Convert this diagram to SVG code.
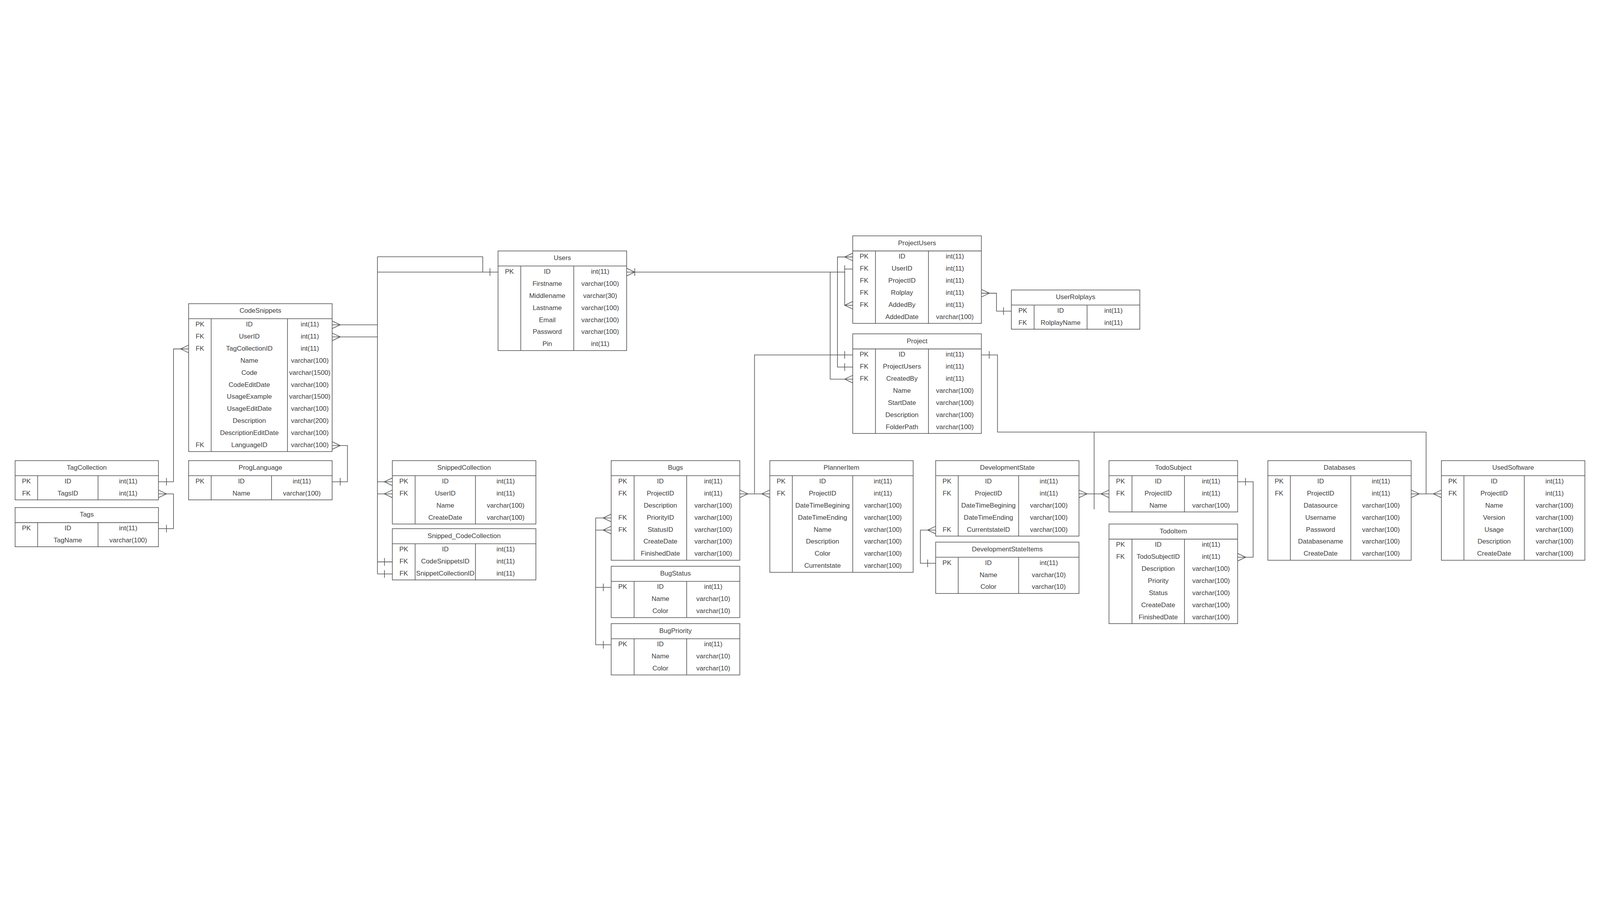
<svg xmlns="http://www.w3.org/2000/svg" width="7948" height="2333" viewBox="0 0 7948 2333">
<style>
:root{width:100vw;height:100vh}
.box{fill:#fff;stroke:#4d4d4d;stroke-width:3}
.sep{stroke:#4d4d4d;stroke-width:3;fill:none}
.ln{stroke:#4d4d4d;stroke-width:3;fill:none}
text{font-family:"Liberation Sans",Arial,Helvetica,sans-serif;font-size:33px;fill:#404040;text-anchor:middle}
</style>
<rect x="0" y="0" width="7948" height="2333" fill="#fff"/>
<g id="connectors">
<path class="ln" d="M1650,517 H1875 M1650,577 H1875 M1875,179 H2398 V255 M1875,255 H2474 M1875,179 V1755 M1949,1297 H1875 M1949,1357 H1875 M1949,1695 H1875 M1949,1755 H1875"/>
<path class="ln" d="M1650,498 L1690,517 L1650,536 M1650,558 L1690,577 L1650,596 M2434,236 V274 M1949,1278 L1909,1297 L1949,1316 M1949,1338 L1909,1357 L1949,1376 M1910,1676 V1714 M1910,1736 V1774"/>
<path class="ln" d="M787,1297 H862 V637 H937 M827,1278 V1316 M937,618 L897,637 L937,656"/>
<path class="ln" d="M787,1357 H862 V1530 H787 M787,1338 L827,1357 L787,1376 M827,1511 V1549"/>
<path class="ln" d="M1650,1117 H1726 V1297 H1650 M1650,1098 L1690,1117 L1650,1136 M1690,1278 V1316"/>
<path class="ln" d="M3113,255 H4196 V240 H4236 M3113,236 L3153,255 L3113,274 M3153,236 V274 M4196,221 V259"/>
<path class="ln" d="M4196,255 V420 H4236 M4236,401 L4196,420 L4236,439"/>
<path class="ln" d="M4124,255 V787 H4236 M4236,768 L4196,787 L4236,806"/>
<path class="ln" d="M4236,180 H4160 V727 H4236 M4236,161 L4196,180 L4236,199 M4196,708 V746"/>
<path class="ln" d="M4875,360 H4950 V449 H5024 M4875,341 L4915,360 L4875,379 M4985,430 V468"/>
<path class="ln" d="M4236,667 H3748 V1357 M4196,648 V686 M3675,1357 H3824 M3675,1338 L3715,1357 L3675,1376 M3824,1338 L3784,1357 L3824,1376"/>
<path class="ln" d="M3036,1477 H2959 V2107 H3036 M3036,1537 H2959 M3036,1822 H2959 M3036,1458 L2996,1477 L3036,1496 M3036,1518 L2996,1537 L3036,1556 M2997,1803 V1841 M2997,2088 V2126"/>
<path class="ln" d="M4875,667 H4955 V1050 H7084 V1357 M4914,648 V686 M5435,1050 V1434"/>
<path class="ln" d="M5360,1357 H5509 M5360,1338 L5400,1357 L5360,1376 M5509,1338 L5469,1357 L5509,1376"/>
<path class="ln" d="M7010,1357 H7160 M7010,1338 L7050,1357 L7010,1376 M7160,1338 L7120,1357 L7160,1376"/>
<path class="ln" d="M4648,1537 H4572 V1702 H4648 M4648,1518 L4608,1537 L4648,1556 M4608,1683 V1721"/>
<path class="ln" d="M6148,1297 H6225 V1672 H6148 M6187,1278 V1316 M6148,1653 L6188,1672 L6148,1691"/>
</g>

<g id="CodeSnippets">
<rect class="box" x="937" y="412" width="713" height="735"/>
<path class="sep" d="M937,487 H1650 M1049,487 V1147 M1428,487 V1147"/>
<text x="1293.5" y="458">CodeSnippets</text>
<text x="993" y="525">PK</text><text x="1238.5" y="525">ID</text><text x="1539" y="525">int(11)</text>
<text x="993" y="585">FK</text><text x="1238.5" y="585">UserID</text><text x="1539" y="585">int(11)</text>
<text x="993" y="645">FK</text><text x="1238.5" y="645">TagCollectionID</text><text x="1539" y="645">int(11)</text>
<text x="1238.5" y="705">Name</text><text x="1539" y="705">varchar(100)</text>
<text x="1238.5" y="765">Code</text><text x="1539" y="765">varchar(1500)</text>
<text x="1238.5" y="825">CodeEditDate</text><text x="1539" y="825">varchar(100)</text>
<text x="1238.5" y="885">UsageExample</text><text x="1539" y="885">varchar(1500)</text>
<text x="1238.5" y="945">UsageEditDate</text><text x="1539" y="945">varchar(100)</text>
<text x="1238.5" y="1005">Description</text><text x="1539" y="1005">varchar(200)</text>
<text x="1238.5" y="1065">DescriptionEditDate</text><text x="1539" y="1065">varchar(100)</text>
<text x="993" y="1125">FK</text><text x="1238.5" y="1125">LanguageID</text><text x="1539" y="1125">varchar(100)</text>
</g>

<g id="TagCollection">
<rect class="box" x="75" y="1192" width="712" height="195"/>
<path class="sep" d="M75,1267 H787 M187,1267 V1387 M487,1267 V1387"/>
<text x="431" y="1238">TagCollection</text>
<text x="131" y="1305">PK</text><text x="337" y="1305">ID</text><text x="637" y="1305">int(11)</text>
<text x="131" y="1365">FK</text><text x="337" y="1365">TagsID</text><text x="637" y="1365">int(11)</text>
</g>

<g id="Tags">
<rect class="box" x="75" y="1425" width="712" height="195"/>
<path class="sep" d="M75,1500 H787 M187,1500 V1620 M487,1500 V1620"/>
<text x="431" y="1471">Tags</text>
<text x="131" y="1538">PK</text><text x="337" y="1538">ID</text><text x="637" y="1538">int(11)</text>
<text x="337" y="1598">TagName</text><text x="637" y="1598">varchar(100)</text>
</g>

<g id="ProgLanguage">
<rect class="box" x="937" y="1192" width="713" height="195"/>
<path class="sep" d="M937,1267 H1650 M1049,1267 V1387 M1349,1267 V1387"/>
<text x="1293.5" y="1238">ProgLanguage</text>
<text x="993" y="1305">PK</text><text x="1199" y="1305">ID</text><text x="1499.5" y="1305">int(11)</text>
<text x="1199" y="1365">Name</text><text x="1499.5" y="1365">varchar(100)</text>
</g>

<g id="Users">
<rect class="box" x="2474" y="150" width="639" height="495"/>
<path class="sep" d="M2474,225 H3113 M2587,225 V645 M2850,225 V645"/>
<text x="2793.5" y="196">Users</text>
<text x="2530.5" y="263">PK</text><text x="2718.5" y="263">ID</text><text x="2981.5" y="263">int(11)</text>
<text x="2718.5" y="323">Firstname</text><text x="2981.5" y="323">varchar(100)</text>
<text x="2718.5" y="383">Middlename</text><text x="2981.5" y="383">varchar(30)</text>
<text x="2718.5" y="443">Lastname</text><text x="2981.5" y="443">varchar(100)</text>
<text x="2718.5" y="503">Email</text><text x="2981.5" y="503">varchar(100)</text>
<text x="2718.5" y="563">Password</text><text x="2981.5" y="563">varchar(100)</text>
<text x="2718.5" y="623">Pin</text><text x="2981.5" y="623">int(11)</text>
</g>

<g id="SnippedCollection">
<rect class="box" x="1949" y="1192" width="713" height="315"/>
<path class="sep" d="M1949,1267 H2662 M2062,1267 V1507 M2362,1267 V1507"/>
<text x="2305.5" y="1238">SnippedCollection</text>
<text x="2005.5" y="1305">PK</text><text x="2212" y="1305">ID</text><text x="2512" y="1305">int(11)</text>
<text x="2005.5" y="1365">FK</text><text x="2212" y="1365">UserID</text><text x="2512" y="1365">int(11)</text>
<text x="2212" y="1425">Name</text><text x="2512" y="1425">varchar(100)</text>
<text x="2212" y="1485">CreateDate</text><text x="2512" y="1485">varchar(100)</text>
</g>

<g id="Snipped_CodeCollection">
<rect class="box" x="1949" y="1530" width="713" height="255"/>
<path class="sep" d="M1949,1605 H2662 M2062,1605 V1785 M2362,1605 V1785"/>
<text x="2305.5" y="1576">Snipped_CodeCollection</text>
<text x="2005.5" y="1643">PK</text><text x="2212" y="1643">ID</text><text x="2512" y="1643">int(11)</text>
<text x="2005.5" y="1703">FK</text><text x="2212" y="1703">CodeSnippetsID</text><text x="2512" y="1703">int(11)</text>
<text x="2005.5" y="1763">FK</text><text x="2212" y="1763">SnippetCollectionID</text><text x="2512" y="1763">int(11)</text>
</g>

<g id="Bugs">
<rect class="box" x="3036" y="1192" width="639" height="495"/>
<path class="sep" d="M3036,1267 H3675 M3150,1267 V1687 M3411,1267 V1687"/>
<text x="3355.5" y="1238">Bugs</text>
<text x="3093" y="1305">PK</text><text x="3280.5" y="1305">ID</text><text x="3543" y="1305">int(11)</text>
<text x="3093" y="1365">FK</text><text x="3280.5" y="1365">ProjectID</text><text x="3543" y="1365">int(11)</text>
<text x="3280.5" y="1425">Description</text><text x="3543" y="1425">varchar(100)</text>
<text x="3093" y="1485">FK</text><text x="3280.5" y="1485">PriorityID</text><text x="3543" y="1485">varchar(100)</text>
<text x="3093" y="1545">FK</text><text x="3280.5" y="1545">StatusID</text><text x="3543" y="1545">varchar(100)</text>
<text x="3280.5" y="1605">CreateDate</text><text x="3543" y="1605">varchar(100)</text>
<text x="3280.5" y="1665">FinishedDate</text><text x="3543" y="1665">varchar(100)</text>
</g>

<g id="BugStatus">
<rect class="box" x="3036" y="1717" width="639" height="255"/>
<path class="sep" d="M3036,1792 H3675 M3150,1792 V1972 M3411,1792 V1972"/>
<text x="3355.5" y="1763">BugStatus</text>
<text x="3093" y="1830">PK</text><text x="3280.5" y="1830">ID</text><text x="3543" y="1830">int(11)</text>
<text x="3280.5" y="1890">Name</text><text x="3543" y="1890">varchar(10)</text>
<text x="3280.5" y="1950">Color</text><text x="3543" y="1950">varchar(10)</text>
</g>

<g id="BugPriority">
<rect class="box" x="3036" y="2002" width="639" height="255"/>
<path class="sep" d="M3036,2077 H3675 M3150,2077 V2257 M3411,2077 V2257"/>
<text x="3355.5" y="2048">BugPriority</text>
<text x="3093" y="2115">PK</text><text x="3280.5" y="2115">ID</text><text x="3543" y="2115">int(11)</text>
<text x="3280.5" y="2175">Name</text><text x="3543" y="2175">varchar(10)</text>
<text x="3280.5" y="2235">Color</text><text x="3543" y="2235">varchar(10)</text>
</g>

<g id="ProjectUsers">
<rect class="box" x="4236" y="75" width="639" height="435"/>
<path class="sep" d="M4236,150 H4875 M4349,150 V510 M4612,150 V510"/>
<text x="4555.5" y="121">ProjectUsers</text>
<text x="4292.5" y="188">PK</text><text x="4480.5" y="188">ID</text><text x="4743.5" y="188">int(11)</text>
<text x="4292.5" y="248">FK</text><text x="4480.5" y="248">UserID</text><text x="4743.5" y="248">int(11)</text>
<text x="4292.5" y="308">FK</text><text x="4480.5" y="308">ProjectID</text><text x="4743.5" y="308">int(11)</text>
<text x="4292.5" y="368">FK</text><text x="4480.5" y="368">Rolplay</text><text x="4743.5" y="368">int(11)</text>
<text x="4292.5" y="428">FK</text><text x="4480.5" y="428">AddedBy</text><text x="4743.5" y="428">int(11)</text>
<text x="4480.5" y="488">AddedDate</text><text x="4743.5" y="488">varchar(100)</text>
</g>

<g id="Project">
<rect class="box" x="4236" y="562" width="639" height="495"/>
<path class="sep" d="M4236,637 H4875 M4349,637 V1057 M4612,637 V1057"/>
<text x="4555.5" y="608">Project</text>
<text x="4292.5" y="675">PK</text><text x="4480.5" y="675">ID</text><text x="4743.5" y="675">int(11)</text>
<text x="4292.5" y="735">FK</text><text x="4480.5" y="735">ProjectUsers</text><text x="4743.5" y="735">int(11)</text>
<text x="4292.5" y="795">FK</text><text x="4480.5" y="795">CreatedBy</text><text x="4743.5" y="795">int(11)</text>
<text x="4480.5" y="855">Name</text><text x="4743.5" y="855">varchar(100)</text>
<text x="4480.5" y="915">StartDate</text><text x="4743.5" y="915">varchar(100)</text>
<text x="4480.5" y="975">Description</text><text x="4743.5" y="975">varchar(100)</text>
<text x="4480.5" y="1035">FolderPath</text><text x="4743.5" y="1035">varchar(100)</text>
</g>

<g id="UserRolplays">
<rect class="box" x="5024" y="344" width="638" height="195"/>
<path class="sep" d="M5024,419 H5662 M5137,419 V539 M5400,419 V539"/>
<text x="5343" y="390">UserRolplays</text>
<text x="5080.5" y="457">PK</text><text x="5268.5" y="457">ID</text><text x="5531" y="457">int(11)</text>
<text x="5080.5" y="517">FK</text><text x="5268.5" y="517">RolplayName</text><text x="5531" y="517">int(11)</text>
</g>

<g id="PlannerItem">
<rect class="box" x="3824" y="1192" width="712" height="555"/>
<path class="sep" d="M3824,1267 H4536 M3936,1267 V1747 M4236,1267 V1747"/>
<text x="4180" y="1238">PlannerItem</text>
<text x="3880" y="1305">PK</text><text x="4086" y="1305">ID</text><text x="4386" y="1305">int(11)</text>
<text x="3880" y="1365">FK</text><text x="4086" y="1365">ProjectID</text><text x="4386" y="1365">int(11)</text>
<text x="4086" y="1425">DateTimeBegining</text><text x="4386" y="1425">varchar(100)</text>
<text x="4086" y="1485">DateTimeEnding</text><text x="4386" y="1485">varchar(100)</text>
<text x="4086" y="1545">Name</text><text x="4386" y="1545">varchar(100)</text>
<text x="4086" y="1605">Description</text><text x="4386" y="1605">varchar(100)</text>
<text x="4086" y="1665">Color</text><text x="4386" y="1665">varchar(100)</text>
<text x="4086" y="1725">Currentstate</text><text x="4386" y="1725">varchar(100)</text>
</g>

<g id="DevelopmentState">
<rect class="box" x="4648" y="1192" width="712" height="375"/>
<path class="sep" d="M4648,1267 H5360 M4760,1267 V1567 M5060,1267 V1567"/>
<text x="5004" y="1238">DevelopmentState</text>
<text x="4704" y="1305">PK</text><text x="4910" y="1305">ID</text><text x="5210" y="1305">int(11)</text>
<text x="4704" y="1365">FK</text><text x="4910" y="1365">ProjectID</text><text x="5210" y="1365">int(11)</text>
<text x="4910" y="1425">DateTimeBegining</text><text x="5210" y="1425">varchar(100)</text>
<text x="4910" y="1485">DateTimeEnding</text><text x="5210" y="1485">varchar(100)</text>
<text x="4704" y="1545">FK</text><text x="4910" y="1545">CurrentstateID</text><text x="5210" y="1545">varchar(100)</text>
</g>

<g id="DevelopmentStateItems">
<rect class="box" x="4648" y="1597" width="712" height="255"/>
<path class="sep" d="M4648,1672 H5360 M4760,1672 V1852 M5060,1672 V1852"/>
<text x="5004" y="1643">DevelopmentStateItems</text>
<text x="4704" y="1710">PK</text><text x="4910" y="1710">ID</text><text x="5210" y="1710">int(11)</text>
<text x="4910" y="1770">Name</text><text x="5210" y="1770">varchar(10)</text>
<text x="4910" y="1830">Color</text><text x="5210" y="1830">varchar(10)</text>
</g>

<g id="TodoSubject">
<rect class="box" x="5509" y="1192" width="639" height="255"/>
<path class="sep" d="M5509,1267 H6148 M5623,1267 V1447 M5884,1267 V1447"/>
<text x="5828.5" y="1238">TodoSubject</text>
<text x="5566" y="1305">PK</text><text x="5753.5" y="1305">ID</text><text x="6016" y="1305">int(11)</text>
<text x="5566" y="1365">FK</text><text x="5753.5" y="1365">ProjectID</text><text x="6016" y="1365">int(11)</text>
<text x="5753.5" y="1425">Name</text><text x="6016" y="1425">varchar(100)</text>
</g>

<g id="TodoItem">
<rect class="box" x="5509" y="1507" width="639" height="495"/>
<path class="sep" d="M5509,1582 H6148 M5623,1582 V2002 M5884,1582 V2002"/>
<text x="5828.5" y="1553">TodoItem</text>
<text x="5566" y="1620">PK</text><text x="5753.5" y="1620">ID</text><text x="6016" y="1620">int(11)</text>
<text x="5566" y="1680">FK</text><text x="5753.5" y="1680">TodoSubjectID</text><text x="6016" y="1680">int(11)</text>
<text x="5753.5" y="1740">Description</text><text x="6016" y="1740">varchar(100)</text>
<text x="5753.5" y="1800">Priority</text><text x="6016" y="1800">varchar(100)</text>
<text x="5753.5" y="1860">Status</text><text x="6016" y="1860">varchar(100)</text>
<text x="5753.5" y="1920">CreateDate</text><text x="6016" y="1920">varchar(100)</text>
<text x="5753.5" y="1980">FinishedDate</text><text x="6016" y="1980">varchar(100)</text>
</g>

<g id="Databases">
<rect class="box" x="6298" y="1192" width="712" height="495"/>
<path class="sep" d="M6298,1267 H7010 M6410,1267 V1687 M6710,1267 V1687"/>
<text x="6654" y="1238">Databases</text>
<text x="6354" y="1305">PK</text><text x="6560" y="1305">ID</text><text x="6860" y="1305">int(11)</text>
<text x="6354" y="1365">FK</text><text x="6560" y="1365">ProjectID</text><text x="6860" y="1365">int(11)</text>
<text x="6560" y="1425">Datasource</text><text x="6860" y="1425">varchar(100)</text>
<text x="6560" y="1485">Username</text><text x="6860" y="1485">varchar(100)</text>
<text x="6560" y="1545">Password</text><text x="6860" y="1545">varchar(100)</text>
<text x="6560" y="1605">Databasename</text><text x="6860" y="1605">varchar(100)</text>
<text x="6560" y="1665">CreateDate</text><text x="6860" y="1665">varchar(100)</text>
</g>

<g id="UsedSoftware">
<rect class="box" x="7160" y="1192" width="713" height="495"/>
<path class="sep" d="M7160,1267 H7873 M7272,1267 V1687 M7572,1267 V1687"/>
<text x="7516.5" y="1238">UsedSoftware</text>
<text x="7216" y="1305">PK</text><text x="7422" y="1305">ID</text><text x="7722.5" y="1305">int(11)</text>
<text x="7216" y="1365">FK</text><text x="7422" y="1365">ProjectID</text><text x="7722.5" y="1365">int(11)</text>
<text x="7422" y="1425">Name</text><text x="7722.5" y="1425">varchar(100)</text>
<text x="7422" y="1485">Version</text><text x="7722.5" y="1485">varchar(100)</text>
<text x="7422" y="1545">Usage</text><text x="7722.5" y="1545">varchar(100)</text>
<text x="7422" y="1605">Description</text><text x="7722.5" y="1605">varchar(100)</text>
<text x="7422" y="1665">CreateDate</text><text x="7722.5" y="1665">varchar(100)</text>
</g>
</svg>
